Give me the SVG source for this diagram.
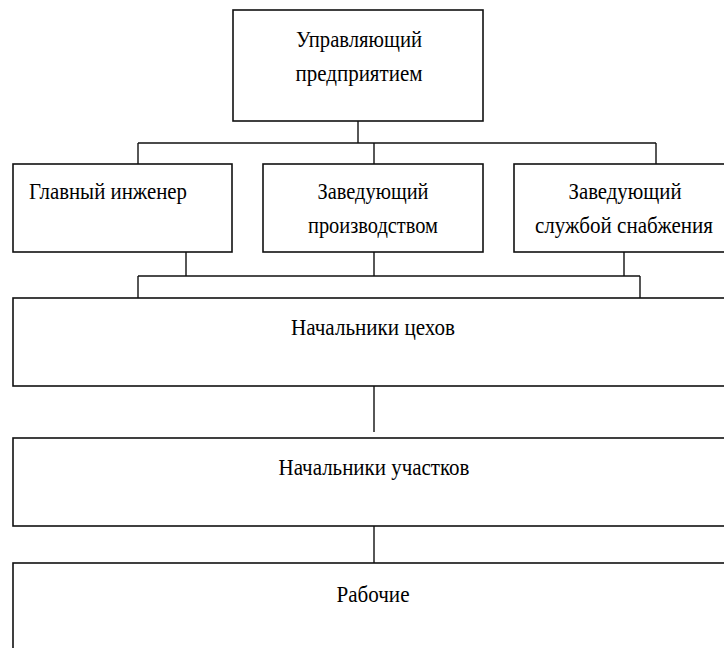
<svg xmlns="http://www.w3.org/2000/svg" width="724" height="648" viewBox="0 0 724 648">
<style>
.box{fill:#fff;stroke:#111;stroke-width:1.6}
.ln{fill:none;stroke:#111;stroke-width:1.4}
text{font-family:"Liberation Serif","Times New Roman",serif;font-size:24px;fill:#000;text-anchor:middle}
</style>
<rect width="724" height="648" fill="#fff"/>
<g id="connectors">
<path class="ln" d="M358 121V143M138 143H656M138 143V166M374 143V164M656 143V164"/>
<path class="ln" d="M186 252V276M374 252V276M624 252V276M138 276H640M138 276V298M640 276V298"/>
<path class="ln" d="M374 386V432M374 519V563"/>
</g>
<g id="n-manager">
<rect class="box" x="233" y="10" width="250" height="111"/>
<text x="359" y="47" textLength="126" lengthAdjust="spacingAndGlyphs">Управляющий</text>
<text x="359" y="81" textLength="127" lengthAdjust="spacingAndGlyphs">предприятием</text>
</g>
<g id="n-chief">
<rect class="box" x="13" y="164" width="219" height="88"/>
<text x="29" y="199" style="text-anchor:start" textLength="158" lengthAdjust="spacingAndGlyphs">Главный инженер</text>
</g>
<g id="n-production">
<rect class="box" x="263" y="164" width="220" height="88"/>
<text x="373" y="199" textLength="111" lengthAdjust="spacingAndGlyphs">Заведующий</text>
<text x="373" y="233" textLength="130" lengthAdjust="spacingAndGlyphs">производством</text>
</g>
<g id="n-supply">
<rect class="box" x="514" y="164" width="230" height="88"/>
<text x="625" y="199" textLength="113" lengthAdjust="spacingAndGlyphs">Заведующий</text>
<text x="624" y="233" style="font-size:23px" textLength="178" lengthAdjust="spacingAndGlyphs">службой снабжения</text>
</g>
<g id="n-shops">
<rect class="box" x="13" y="298" width="740" height="88"/>
<text x="373" y="335" textLength="164" lengthAdjust="spacingAndGlyphs">Начальники цехов</text>
</g>
<g id="n-sections">
<rect class="box" x="13" y="438" width="740" height="88"/>
<text x="374" y="475" textLength="191" lengthAdjust="spacingAndGlyphs">Начальники участков</text>
</g>
<g id="n-workers">
<rect class="box" x="13" y="563" width="740" height="120"/>
<text x="373" y="602" textLength="73" lengthAdjust="spacingAndGlyphs">Рабочие</text>
</g>
</svg>
